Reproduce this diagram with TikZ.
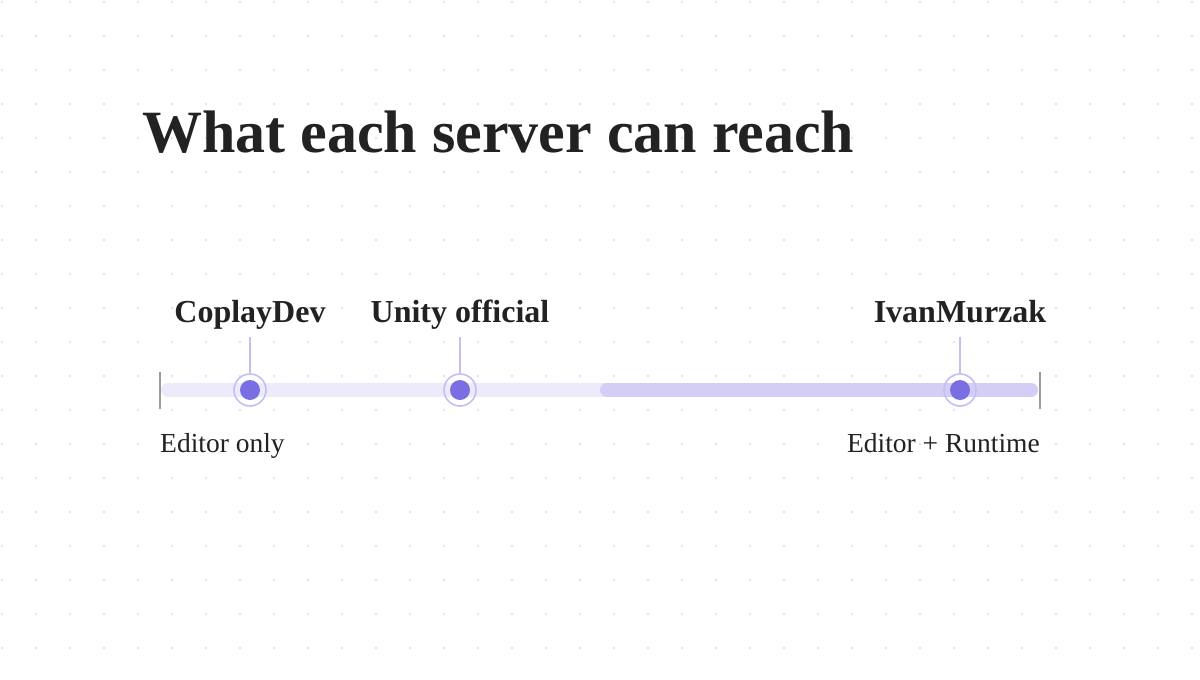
\documentclass[tikz,border=0pt]{standalone}
\usepackage{fontspec}
\setmainfont{Liberation Serif}
\definecolor{griddot}{HTML}{E4E2F2}
\definecolor{trackA}{HTML}{EDEAFB}
\definecolor{trackB}{HTML}{D4CEF6}
\definecolor{dotfill}{HTML}{7A6FE2}
\definecolor{ringc}{HTML}{C6BEF3}
\definecolor{tickc}{HTML}{9A9A9A}
\definecolor{ink}{HTML}{222222}
\tikzset{
  titletext/.style={inner sep=0, text=ink, font=\fontsize{60}{66}\selectfont\bfseries},
  lbl/.style={inner sep=0, text=ink, font=\fontsize{32}{36}\selectfont\bfseries},
  endlbl/.style={inner sep=0, text=ink, font=\fontsize{27.5}{31}\selectfont},
  pt/.style={circle, fill=dotfill, minimum size=20, inner sep=0},
  ring/.style={circle, draw=ringc, line width=1.6, minimum size=32, inner sep=0},
  stem/.style={draw=ringc, line width=1.5},
  tick/.style={draw=tickc, line width=1.5},
}
\begin{document}
\begin{tikzpicture}[x=1pt,y=-1pt]
\useasboundingbox (0,0) rectangle (1200,680);
\fill[white] (0,0) rectangle (1200,680);
\foreach \i in {0,...,35} {
  \foreach \j in {0,...,19} {
    \fill[griddot] ({2+34*\i},{2+34*\j}) circle (1.4);
  }
}
\node[titletext, anchor=base west] (title) at (142,152) {What each server can reach};
% track
\draw[trackA, line width=14, line cap=round] (168,390) -- (1031,390);
\draw[trackB, line width=14, line cap=round] (607,390) -- (1031,390);
\coordinate (t1a) at (160,372); \coordinate (t1b) at (160,409);
\coordinate (t2a) at (1040,372); \coordinate (t2b) at (1040,409);
\draw[tick] (t1a) -- (t1b);
\draw[tick] (t2a) -- (t2b);
% markers
\node[ring] (r1) at (250,390) {};
\node[ring] (r2) at (460,390) {};
\node[ring] (r3) at (960,390) {};
\node[pt] (p1) at (250,390) {};
\node[pt] (p2) at (460,390) {};
\node[pt] (p3) at (960,390) {};
\coordinate (s1) at (250,337);
\coordinate (s2) at (460,337);
\coordinate (s3) at (960,337);
\draw[stem] (s1) -- (r1.north);
\draw[stem] (s2) -- (r2.north);
\draw[stem] (s3) -- (r3.north);
\node[lbl, anchor=base] (l1) at (250,322) {CoplayDev};
\node[lbl, anchor=base] (l2) at (460,322) {Unity official};
\node[lbl, anchor=base] (l3) at (960,322) {IvanMurzak};
\node[endlbl, anchor=base west] (e1) at (160,452) {Editor only};
\node[endlbl, anchor=base east] (e2) at (1040,452) {Editor + Runtime};
\end{tikzpicture}
\end{document}
